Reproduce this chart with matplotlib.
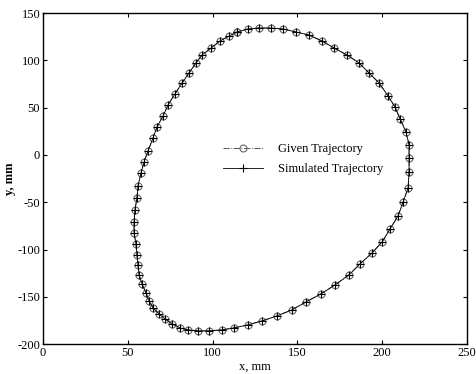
import matplotlib.pyplot as plt

plt.rcParams.update(
    {
        "font.family": ["Liberation Serif", "DejaVu Serif"],
        "font.size": 9,
        "axes.unicode_minus": False,
        "xtick.direction": "in",
        "ytick.direction": "in",
        "xtick.top": True,
        "ytick.right": True,
    }
)

# trajectory points (mm)
x_given = [
    114.4, 109.7, 104.4, 99.1, 93.8, 90.2, 86.1, 82.0, 77.8, 73.7, 70.8, 67.2,
    64.9, 61.9, 59.6, 57.8, 56.0, 55.4, 54.2, 53.7, 53.7, 54.8, 55.4, 56.0,
    56.6, 58.4, 60.7, 62.5, 64.9, 68.4, 71.9, 76.1, 80.8, 85.5, 91.4, 97.9,
    105.5, 112.6, 120.9, 129.1, 138.0, 146.8, 155.1, 163.9, 172.2, 180.4, 186.9, 194.0,
    199.9, 204.6, 209.3, 212.3, 215.2, 215.8, 215.8, 215.8, 214.0, 210.5, 207.5, 203.4,
    198.1, 192.2, 186.3, 179.2, 171.6, 164.5, 156.8, 149.2, 141.5, 134.4, 127.4, 120.9,
    114.4,
]
y_given = [
    130.0, 125.8, 120.5, 113.1, 105.7, 97.3, 86.7, 76.1, 64.5, 52.9, 41.2, 29.6,
    18.0, 4.2, -7.4, -19.0, -32.8, -45.5, -58.1, -70.8, -82.5, -94.1, -105.7, -116.3,
    -126.8, -136.4, -145.9, -154.3, -161.7, -168.1, -173.4, -178.6, -182.9, -185.0, -186.0, -186.0,
    -185.0, -182.9, -179.7, -175.5, -170.2, -163.8, -155.4, -146.9, -137.4, -126.8, -115.2, -103.6,
    -92.0, -78.2, -64.5, -49.7, -34.9, -18.0, -3.2, 10.6, 24.3, 38.1, 50.7, 62.4,
    76.1, 86.7, 97.3, 105.7, 113.1, 120.5, 126.8, 130.0, 133.2, 134.2, 134.2, 133.2,
    130.0,
]
# simulated trajectory lies on top of the given one
x_sim = list(x_given)
y_sim = list(y_given)

fig = plt.figure(figsize=(4.76, 3.74), dpi=100)
ax = fig.add_axes([0.0903, 0.080, 0.891, 0.885])

ax.plot(x_given, y_given, "-.", color="#555555", linewidth=0.7,
        marker="o", markersize=5, markerfacecolor="none",
        markeredgecolor="#666666", markeredgewidth=0.8, label="Given Trajectory")
ax.plot(x_sim, y_sim, "-", color="black", linewidth=0.6,
        marker="+", markersize=6, markeredgewidth=0.8,
        label="Simulated Trajectory")

ax.set_xlim(0, 250)
ax.set_ylim(-200, 150)
ax.set_xticks(range(0, 251, 50))
ax.set_yticks(range(-200, 151, 50))
ax.set_xlabel("x, mm", fontsize=9, labelpad=1)
ax.set_ylabel("y, mm", fontsize=9, fontweight="bold", labelpad=1)
ax.tick_params(length=3, width=0.8, pad=2)
for s in ax.spines.values():
    s.set_linewidth(1.0)

ax.legend(loc="upper left", bbox_to_anchor=(0.41, 0.625), frameon=False,
          fontsize=9, handlelength=3.2, handletextpad=1.2, borderpad=0,
          labelspacing=0.6)

fig.savefig("out.png", dpi=100)
